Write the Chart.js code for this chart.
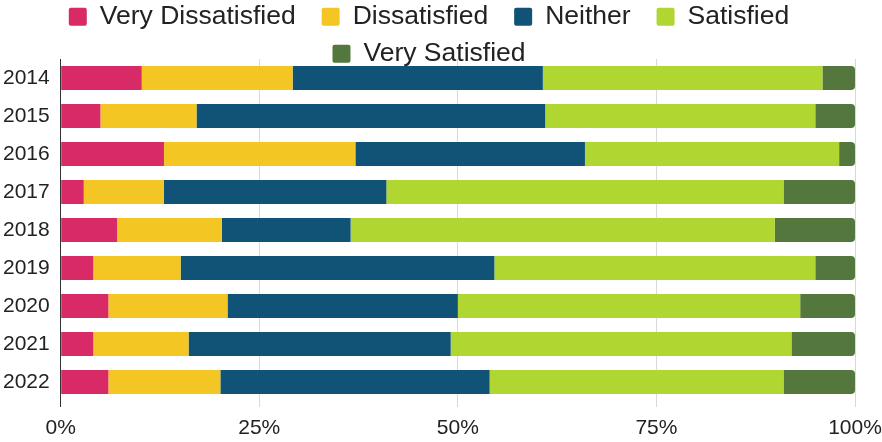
<!DOCTYPE html>
<html>
<head>
<meta charset="utf-8">
<script src="https://cdn.jsdelivr.net/npm/chart.js@4.4.1/dist/chart.umd.min.js"></script>
<style>
  html, body { margin: 0; padding: 0; background: #fff; }
  #wrap { width: 882px; height: 442px; position: relative; }
</style>
</head>
<body>
<div id="wrap"><canvas id="satisfactionChart"></canvas></div>
<script>
// Survey years and answer shares (percent of respondents)
const years = ['2014', '2015', '2016', '2017', '2018', '2019', '2020', '2021', '2022'];
const veryDissatisfied = [10.2, 5.0, 13.0, 2.9, 7.1, 4.1, 6.0, 4.1, 6.0];
const dissatisfied = [19.0, 12.1, 24.1, 10.1, 13.2, 11.0, 15.0, 12.0, 14.1];
const neither = [31.5, 43.9, 28.9, 28.0, 16.2, 39.5, 29.0, 33.0, 33.9];
const satisfied = [35.2, 34.0, 32.0, 50.0, 53.4, 40.4, 43.1, 42.9, 37.0];
const verySatisfied = [4.1, 5.0, 2.0, 9.0, 10.1, 5.0, 6.9, 8.0, 9.0];
const xTicks = [0, 25, 50, 75, 100];

const FONT = '"Liberation Sans", Arial, Helvetica, sans-serif';

// Legend drawn in two centred rows, overlapping the top of the plot like the original
const rowLegend = {
    id: 'rowLegend',
    afterDraw(chart) {
        const ctx = chart.ctx;
        const size = 26.5, box = 18, gap = 13, spacing = 26, rowH = 37, maxW = 760;
        ctx.save();
        ctx.font = size + 'px ' + FONT;
        ctx.textBaseline = 'middle';
        const items = chart.data.datasets.map(ds => ({
            text: ds.label,
            color: ds.backgroundColor,
            w: box + gap + ctx.measureText(ds.label).width
        }));
        const rows = [];
        let cur = [], curW = 0;
        items.forEach(it => {
            const add = cur.length ? spacing + it.w : it.w;
            if (cur.length && curW + add > maxW) {
                rows.push({ items: cur, w: curW });
                cur = [it];
                curW = it.w;
            } else {
                cur.push(it);
                curW += add;
            }
        });
        rows.push({ items: cur, w: curW });

        rows.forEach((row, r) => {
            let x = chart.width / 2 - 12 - row.w / 2;
            const y = 16.7 + r * rowH;
            row.items.forEach(it => {
                ctx.fillStyle = it.color;
                ctx.beginPath();
                ctx.roundRect(x, y - box / 2, box, box, 2);
                ctx.fill();
                ctx.fillStyle = '#222';
                ctx.fillText(it.text, x + box + gap, y);
                x += it.w + spacing;
            });
        });
        ctx.restore();
    }
};

function series(label, data, color, last) {
    return {
        label,
        data,
        backgroundColor: color,
        borderWidth: 0,
        borderRadius: last ? 4 : 0,
        borderSkipped: 'start',
        barPercentage: 0.63,
        categoryPercentage: 1
    };
}

const ctx = document.getElementById('satisfactionChart').getContext('2d');
new Chart(ctx, {
    type: 'bar',
    data: {
        labels: years,
        datasets: [
            series('Very Dissatisfied', veryDissatisfied, '#d82a66'),
            series('Dissatisfied', dissatisfied, '#f4c623'),
            series('Neither', neither, '#105377'),
            series('Satisfied', satisfied, '#afd631'),
            series('Very Satisfied', verySatisfied, '#53773d', true)
        ]
    },
    options: {
        indexAxis: 'y',
        responsive: true,
        maintainAspectRatio: false,
        animation: false,
        layout: { padding: { top: 59, left: 2, right: 0, bottom: 0 } },
        plugins: {
            legend: { display: false },
            tooltip: { enabled: false }
        },
        scales: {
            x: {
                stacked: true,
                min: 0,
                max: 100,
                afterBuildTicks: axis => { axis.ticks = xTicks.map(v => ({ value: v })); },
                // keep the axis compact: labels sit low, plot runs close to the right edge
                afterFit: scale => {
                    scale.height = 41;
                    scale.paddingRight = 27;
                },
                border: { display: false },
                grid: {
                    color: c => (c.index === 0 ? '#333' : '#d9d9d9'),
                    lineWidth: 1,
                    drawTicks: true,
                    tickLength: 6
                },
                ticks: {
                    color: '#222',
                    font: { family: FONT, size: 21 },
                    padding: 9,
                    maxRotation: 0,
                    callback: v => v + '%'
                }
            },
            y: {
                stacked: true,
                afterFit: scale => { scale.width = 58.7; },
                border: { display: true, color: '#333', width: 1 },
                grid: { display: false, drawTicks: false },
                ticks: {
                    color: '#222',
                    font: { family: FONT, size: 21 },
                    padding: 11
                }
            }
        }
    },
    plugins: [rowLegend]
});
</script>
</body>
</html>
